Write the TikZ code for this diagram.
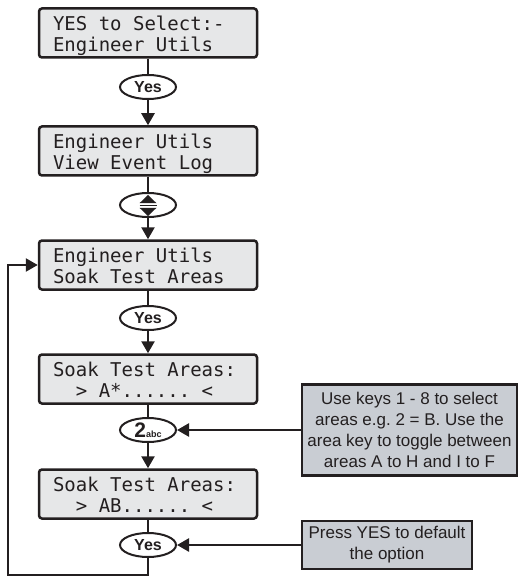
\documentclass[tikz,border=0pt]{standalone}
\usepackage{fontspec}
\setmainfont{Liberation Sans}
\setmonofont{DejaVu Sans Mono}
\usetikzlibrary{arrows.meta,shapes.geometric}
\definecolor{lcdgray}{HTML}{E6E7E8}
\definecolor{notegray}{HTML}{C9CDD3}
\definecolor{ink}{HTML}{231F20}
% two display rows with fixed top and bottom room
\newcommand{\lcd}[2]{\makebox[190pt][l]{\rule{0pt}{22pt}#1}\\\makebox[190pt][l]{#2\rule[-6.3pt]{0pt}{6.3pt}}}

\begin{document}
\begin{tikzpicture}[x=1pt, y=-1pt, line width=2.5pt, color=ink,
  lcd/.style={draw, rounded corners=3pt, fill=lcdgray, inner xsep=14pt, inner ysep=0pt,
    minimum height=49pt, align=left, font=\ttfamily\fontsize{19}{20.7}\selectfont\frenchspacing},
  key/.style={draw, ellipse, fill=white, line width=2pt, minimum width=56pt, minimum height=24pt,
    inner sep=0pt, font=\fontsize{16}{16}\selectfont\bfseries},
  note/.style={draw, fill=notegray, inner sep=0pt, align=center, font=\fontsize{17}{21}\selectfont\frenchspacing},
  arr/.style={-{Triangle[length=12pt, width=13pt]}}]
\useasboundingbox (0,0) rectangle (518,577);
\node[lcd] (sel) at (148,33) {\lcd{YES to Select:-}{Engineer Utils}};
\node[key] (yesa) at (148,87) {Yes};
\node[lcd] (view) at (148,151) {\lcd{Engineer Utils}{View Event Log}};
\node[key] (scroll) at (148,205) {};
\node[lcd] (soak) at (148,265) {\lcd{Engineer Utils}{Soak Test Areas}};
\node[key] (yesb) at (148,318) {Yes};
\node[lcd] (pick) at (148,379) {\lcd{Soak Test Areas:}{~~> A*...... <}};
\node[key] (two) at (148,430) {{\fontsize{21}{21}\selectfont 2}{\fontsize{9}{9}\selectfont abc}};
\node[lcd] (picked) at (148,494) {\lcd{Soak Test Areas:}{~~> AB...... <}};
\node[key] (yesc) at (148,545) {Yes};
\node[note, minimum width=215pt, minimum height=91pt] (keynote) at (409.5,430)
  {Use keys 1 - 8 to select\\areas e.g. 2 = B. Use the\\area key to toggle between\\areas A to H and I to F};
\node[note, minimum width=170pt, minimum height=48pt] (defnote) at (387,545) {Press YES to default\\the option};
% up/down scroll symbol
\fill (scroll.center) ++(0,-10) -- ++(8.5,8.2) -- ++(-17,0) -- cycle;
\fill (scroll.center) ++(0,11) -- ++(8.5,-8.2) -- ++(-17,0) -- cycle;
\draw[line width=1.2pt] ([shift={(-8.5,0.6)}]scroll.center) -- ([shift={(8.5,0.6)}]scroll.center);
\draw (sel) -- (yesa);
\draw[arr] (yesa) -- (view);
\draw (view) -- (scroll);
\draw[arr] (scroll) -- (soak);
\draw (soak) -- (yesb);
\draw[arr] (yesb) -- (pick);
\draw (pick) -- (two);
\draw[arr] (two) -- (picked);
\draw (picked) -- (yesc);
\coordinate (loop) at (8,575);
\draw[arr] (yesc) |- (loop) |- (soak.west);
\draw[arr] (keynote) -- (two);
\draw[arr] (defnote) -- (yesc);
\end{tikzpicture}
\end{document}
